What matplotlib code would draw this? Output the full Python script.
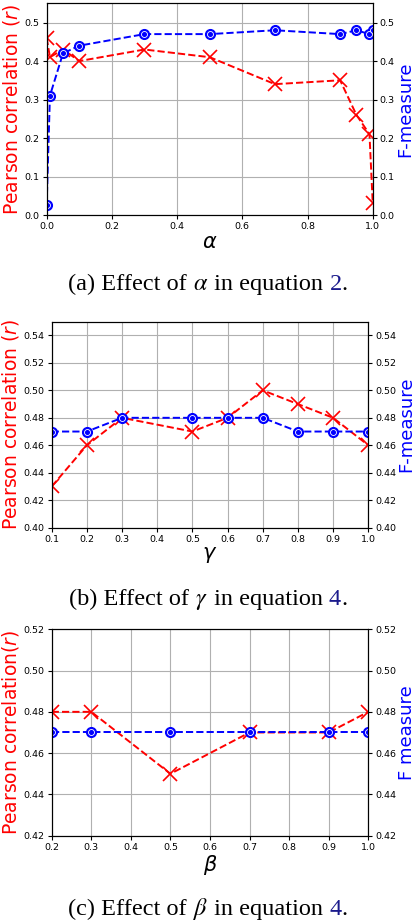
import matplotlib
matplotlib.use('Agg')
import matplotlib.pyplot as plt
import numpy as np

#%% data
alpha_x = [0.0, 0.01, 0.05, 0.1, 0.3, 0.5, 0.7, 0.9, 0.95, 0.99, 1.0]
alpha_r = [0.46, 0.41, 0.43, 0.40, 0.43, 0.41, 0.34, 0.35, 0.26, 0.21, 0.03]
alpha_f = [0.027, 0.31, 0.42, 0.44, 0.47, 0.47, 0.48, 0.47, 0.48, 0.47, 0.48]

gamma_x = [0.1, 0.2, 0.3, 0.5, 0.6, 0.7, 0.8, 0.9, 1.0]
gamma_r = [0.43, 0.46, 0.48, 0.47, 0.48, 0.50, 0.49, 0.48, 0.46]
gamma_f = [0.47, 0.47, 0.48, 0.48, 0.48, 0.48, 0.47, 0.47, 0.47]

beta_x = [0.2, 0.3, 0.5, 0.7, 0.9, 1.0]
beta_r = [0.48, 0.48, 0.45, 0.47, 0.47, 0.48]
beta_f = [0.47, 0.47, 0.47, 0.47, 0.47, 0.47]

panels = [
    dict(x=alpha_x, r=alpha_r, f=alpha_f, xlim=(0, 1), ylim=(0, 0.55),
         xticks=np.arange(0, 1.01, 0.2), yticks=np.arange(0, 0.51, 0.1), yfmt='%.1f',
         xlabel=r'$\alpha$', lylabel='Pearson correlation ($r$)', rylabel='F-measure',
         rect=[0.1122, 0.7668, 0.7838, 0.2296],
         cap=('(a) Effect of ', r'$\alpha$', ' in equation ', '2', '.'), cap_y=290),
    dict(x=gamma_x, r=gamma_r, f=gamma_f, xlim=(0.1, 1), ylim=(0.40, 0.55),
         xticks=np.arange(0.1, 1.01, 0.1), yticks=np.arange(0.40, 0.541, 0.02), yfmt='%.2f',
         xlabel=r'$\gamma$', lylabel='Pearson correlation ($r$)', rylabel='F-measure',
         rect=[0.1243, 0.4277, 0.761, 0.2234],
         cap=('(b) Effect of ', r'$\gamma$', ' in equation ', '4', '.'), cap_y=605),
    dict(x=beta_x, r=beta_r, f=beta_f, xlim=(0.2, 1), ylim=(0.42, 0.52),
         xticks=np.arange(0.2, 1.01, 0.1), yticks=np.arange(0.42, 0.521, 0.02), yfmt='%.2f',
         xlabel=r'$\beta$', lylabel='Pearson correlation($r$)', rylabel='F measure',
         rect=[0.1243, 0.0936, 0.761, 0.2239],
         cap=('(c) Effect of ', r'$\beta$', ' in equation ', '4', '.'), cap_y=915),
]

W, H = 416, 922
fig = plt.figure(figsize=(W / 100, H / 100), dpi=100)

for p in panels:
    ax = fig.add_axes(p['rect'])
    ax2 = ax.twinx()

    ax.plot(p['x'], p['r'], color='red', linestyle='--', lw=1.4,
            marker='x', ms=10, mew=1.2)
    ax2.plot(p['x'], p['f'], color='blue', linestyle='--', lw=1.4,
             marker='o', ms=7, mfc='blue', mec='blue')
    ax2.plot(p['x'], p['f'], linestyle='none', marker='o', ms=4.3,
             mfc='blue', mec='white', mew=0.6)

    for a in (ax, ax2):
        a.set_xlim(*p['xlim'])
        a.set_ylim(*p['ylim'])
        a.set_yticks(p['yticks'])
        a.set_yticklabels([p['yfmt'] % v for v in p['yticks']])
        a.tick_params(labelsize=6.8, length=3, width=0.8, pad=2)
    ax.set_xticks(p['xticks'])
    ax.set_xticklabels(['%.1f' % v for v in p['xticks']])
    ax.grid(True, color='#b0b0b0', lw=0.8)

    ax.set_xlabel(p['xlabel'], fontsize=15, labelpad=1)
    ax.set_ylabel(p['lylabel'], fontsize=13.5, color='red', labelpad=2)
    ax2.set_ylabel(p['rylabel'], fontsize=13, color='blue', labelpad=1)

# captions, pieced together so the equation number can be blue
fig.canvas.draw()
renderer = fig.canvas.get_renderer()
for p in panels:
    y = 1 - p['cap_y'] / H
    colors = ['black', 'black', 'black', '#1a1a8c', 'black']
    texts = []
    x = 0
    for s, c in zip(p['cap'], colors):
        t = fig.text(x, y, s, fontsize=17.5, family='Liberation Serif',
                     math_fontfamily='stix', color=c, va='baseline', ha='left')
        ext = t.get_window_extent(renderer)
        x += ext.width / W
        texts.append(t)
    shift = 0.5 - x / 2
    xx = shift
    for t in texts:
        t.set_x(xx)
        xx += t.get_window_extent(renderer).width / W

fig.savefig('out.png', dpi=100)
